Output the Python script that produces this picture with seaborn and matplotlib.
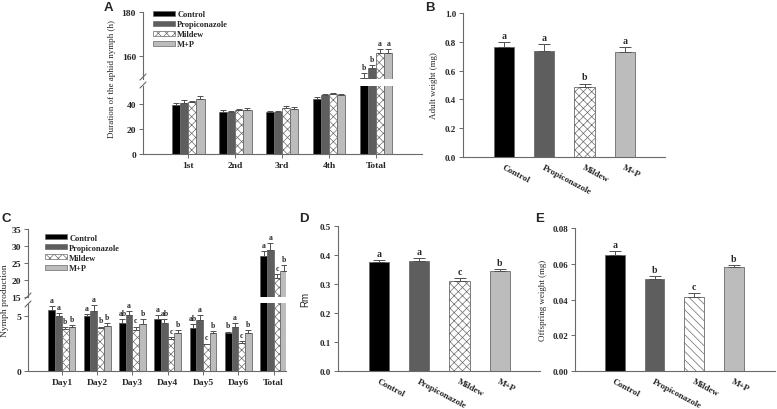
import numpy as np
import pandas as pd
import matplotlib
matplotlib.use('Agg')
import matplotlib.pyplot as plt
import matplotlib.patches as mpatches
from matplotlib.lines import Line2D
import seaborn as sns

# treatments et style des barres
treatments = ['Control', 'Propiconazole', 'Mildew', 'M+P']
bar_colors = ['#000000', '#5e5e5e', '#ffffff', '#bcbcbc']
bar_hatches = ['', '', 'xxxx', '']

# A - duree du developpement nymphal (h)
stages = ['1st', '2nd', '3rd', '4th', 'Total']
dur_control = [39.5, 34.0, 33.5, 44.3, 150.1]
dur_prop = [41.0, 33.5, 33.5, 47.0, 154.5]
dur_mildew = [41.6, 35.4, 37.0, 48.4, 161.4]
dur_mp = [44.3, 34.9, 36.2, 47.0, 161.5]
dur_control_se = [1.5, 1.0, 0.8, 1.1, 2.0]
dur_prop_se = [2.0, 0.8, 0.8, 1.4, 1.5]
dur_mildew_se = [1.1, 0.8, 1.4, 0.8, 1.9]
dur_mp_se = [2.5, 2.1, 1.6, 0.8, 1.8]
dur_letters = [['', '', '', '', 'b'], ['', '', '', '', 'b'],
               ['', '', '', '', 'a'], ['', '', '', '', 'a']]

# B - poids adulte (mg)
adult_weight = [0.764, 0.739, 0.485, 0.727]
adult_weight_se = [0.033, 0.044, 0.025, 0.035]
adult_letters = ['a', 'a', 'b', 'a']

# C - production de nymphes
days = ['Day1', 'Day2', 'Day3', 'Day4', 'Day5', 'Day6', 'Total']
nymph_control = [5.6, 4.97, 4.4, 4.73, 3.9, 3.46, 27.1]
nymph_prop = [5.0, 5.5, 5.15, 4.4, 4.65, 4.05, 28.8]
nymph_mildew = [3.85, 3.9, 3.75, 2.93, 2.43, 2.57, 20.6]
nymph_mp = [4.0, 4.1, 4.3, 3.46, 3.46, 3.46, 22.6]
nymph_control_se = [0.35, 0.23, 0.3, 0.37, 0.4, 0.14, 1.4]
nymph_prop_se = [0.3, 0.5, 0.3, 0.3, 0.45, 0.3, 2.1]
nymph_mildew_se = [0.15, 0.15, 0.3, 0.17, 0.07, 0.13, 1.2]
nymph_mp_se = [0.2, 0.3, 0.4, 0.24, 0.19, 0.24, 1.8]
nymph_letters = [['a', 'a', 'ab', 'a', 'ab', 'b', 'a'],
                 ['a', 'a', 'a', 'ab', 'a', 'a', 'a'],
                 ['b', 'b', 'c', 'c', 'c', 'c', 'c'],
                 ['b', 'b', 'b', 'b', 'b', 'b', 'b']]

# D - Rm
rm = [0.376, 0.378, 0.312, 0.344]
rm_se = [0.007, 0.011, 0.007, 0.007]
rm_letters = ['a', 'a', 'c', 'b']

# E - poids de la descendance (mg)
offspring = [0.0651, 0.0513, 0.0414, 0.0582]
offspring_se = [0.0020, 0.0017, 0.0021, 0.0011]
offspring_letters = ['a', 'b', 'c', 'b']

LINE = '#6a6a6a'
W, H = 777, 410

sns.set_style('ticks')
plt.rcParams['font.family'] = ['Liberation Serif', 'DejaVu Serif']
plt.rcParams['font.weight'] = 'bold'
plt.rcParams['axes.edgecolor'] = LINE
plt.rcParams['axes.linewidth'] = 0.8
plt.rcParams['hatch.linewidth'] = 0.5

fig = plt.figure(figsize=(W / 100, H / 100), dpi=100)


def px_axes(l, t, r, b):
    return fig.add_axes([l / W, 1 - b / H, (r - l) / W, (b - t) / H])


def style(ax, size=6.5):
    sns.despine(ax=ax)
    ax.tick_params(direction='out', length=3, width=0.7, color=LINE,
                   labelsize=size, pad=2)
    ax.set_xlabel('')
    ax.set_ylabel('')


def bars_and_errors(ax, means, errs, letters, capsize, lsize):
    bars = [b for c in list(ax.containers) for b in c]
    for k, bar in enumerate(bars):
        i = k // (len(bars) // 4)
        bar.set_hatch(bar_hatches[i] if len(bars) > 4 else bar_hatches[k])
        bar.set_edgecolor(LINE)
        bar.set_linewidth(0.6)
        xc = bar.get_x() + bar.get_width() / 2
        ax.errorbar(xc, means[k], yerr=[[0], [errs[k]]], fmt='none',
                    ecolor='#505050', elinewidth=0.7, capsize=capsize,
                    capthick=0.7)
        if letters[k]:
            ax.annotate(letters[k], (xc, means[k] + errs[k]),
                        xytext=(0, 1.5), textcoords='offset points',
                        ha='center', va='bottom', fontsize=lsize,
                        annotation_clip=False)


def grouped(ax, cats, series, errs, letters, width, lcheck):
    df = pd.DataFrame({'cat': cats * 4,
                       'treatment': np.repeat(treatments, len(cats)),
                       'value': sum(series, [])})
    sns.barplot(data=df, x='cat', y='value', hue='treatment', order=cats,
                hue_order=treatments, palette=bar_colors, width=width,
                errorbar=None, legend=False, ax=ax)
    flat_letters = [l if lcheck(j) else '' for row in letters
                    for j, l in enumerate(row)]
    bars_and_errors(ax, sum(series, []), sum(errs, []), flat_letters,
                    2.2, 5.5)


def single(ax, values, errs, letters):
    sns.barplot(x=treatments, y=values, hue=treatments, palette=bar_colors,
                width=0.5, legend=False, ax=ax)
    bars_and_errors(ax, values, errs, letters, 4, 7)
    ax.set_xticks(range(4))
    ax.set_xticklabels(treatments, rotation=-28, ha='left', va='top',
                       rotation_mode='anchor')


def break_marks(x, y1, y2):
    for y in (y1, y2):
        fig.add_artist(Line2D([(x - 3) / W, (x + 3) / W],
                              [1 - (y + 3) / H, 1 - (y - 3) / H],
                              color=LINE, lw=0.8, transform=fig.transFigure))


def make_legend(ax, bbox):
    handles = [mpatches.Patch(facecolor=c, edgecolor=LINE, hatch=h, lw=0.5,
                              label=t)
               for c, h, t in zip(bar_colors, bar_hatches, treatments)]
    ax.legend(handles=handles, loc='upper left', bbox_to_anchor=bbox,
              frameon=False, fontsize=6, handlelength=2.6, handleheight=0.55,
              handletextpad=0.3, labelspacing=0.25, borderaxespad=0,
              borderpad=0)


dur_series = [dur_control, dur_prop, dur_mildew, dur_mp]
dur_errs = [dur_control_se, dur_prop_se, dur_mildew_se, dur_mp_se]
nymph_series = [nymph_control, nymph_prop, nymph_mildew, nymph_mp]
nymph_errs = [nymph_control_se, nymph_prop_se, nymph_mildew_se, nymph_mp_se]

# ---- A
a_up = px_axes(143, 13, 422, 80)
a_lo = px_axes(143, 87, 422, 155)
grouped(a_up, stages, dur_series, dur_errs, dur_letters, 0.7,
        lambda j: j == 4)
grouped(a_lo, stages, dur_series, dur_errs, dur_letters, 0.7,
        lambda j: False)
for ax in (a_up, a_lo):
    style(ax, 6.8)
    ax.set_xlim(-0.96, 4.98)
a_up.set_ylim(149.5, 180)
a_up.set_yticks([160, 180])
a_up.spines['bottom'].set_visible(False)
a_up.tick_params(axis='x', length=0, labelbottom=False)
a_lo.set_ylim(0, 54.4)
a_lo.set_yticks([0, 20, 40])
a_lo.set_ylabel('Duration of the aphid nymph (h)', fontsize=6.5)
a_lo.yaxis.set_label_coords(-0.097, 1.12)
make_legend(a_up, (0.036, 1.03))
break_marks(143, 78, 86)

# ---- B
ax_b = px_axes(463, 14, 665, 158)
single(ax_b, adult_weight, adult_weight_se, adult_letters)
style(ax_b, 6.5)
ax_b.set_xlim(-1.02, 4.0)
ax_b.set_ylim(0, 1.0)
ax_b.set_yticks(np.arange(0, 1.01, 0.2))
ax_b.yaxis.set_major_formatter('{x:.1f}')
ax_b.tick_params(axis='x', length=0, pad=4)
ax_b.set_ylabel('Adult weight (mg)', fontsize=6.5)
ax_b.yaxis.set_label_coords(-0.124, 0.5)

# ---- C
c_up = px_axes(28, 230, 286, 298)
c_lo = px_axes(28, 304, 286, 372)
grouped(c_up, days, nymph_series, nymph_errs, nymph_letters, 0.76,
        lambda j: j == 6)
grouped(c_lo, days, nymph_series, nymph_errs, nymph_letters, 0.76,
        lambda j: j < 6)
for ax in (c_up, c_lo):
    style(ax, 6.8)
    ax.set_xlim(-0.96, 6.35)
c_up.set_ylim(15, 35)
c_up.set_yticks([15, 20, 25, 30, 35])
c_up.spines['bottom'].set_visible(False)
c_up.tick_params(axis='x', length=0, labelbottom=False)
c_lo.set_ylim(0, 6.2)
c_lo.set_yticks([0, 5])
c_lo.set_ylabel('Nymph production', fontsize=6.8)
c_lo.yaxis.set_label_coords(-0.075, 1.05)
make_legend(c_up, (0.066, 0.93))
break_marks(28, 297, 305)

# ---- D
ax_d = px_axes(338, 227, 540, 372)
single(ax_d, rm, rm_se, rm_letters)
style(ax_d, 6.5)
ax_d.set_xlim(-1.02, 4.0)
ax_d.set_ylim(0, 0.5)
ax_d.set_yticks(np.arange(0, 0.51, 0.1))
ax_d.yaxis.set_major_formatter('{x:.1f}')
ax_d.tick_params(axis='x', length=0, pad=4)
ax_d.set_ylabel('Rm', fontsize=7, family=['Liberation Sans', 'DejaVu Sans'])
ax_d.yaxis.set_label_coords(-0.135, 0.5)

# ---- E
ax_e = px_axes(575, 229, 775, 372)
single(ax_e, offspring, offspring_se, offspring_letters)
ax_e.patches[2].set_hatch('\\\\\\\\')
style(ax_e, 6.5)
ax_e.set_xlim(-1.0, 4.03)
ax_e.set_ylim(0, 0.08)
ax_e.set_yticks(np.arange(0, 0.081, 0.02))
ax_e.yaxis.set_major_formatter('{x:.2f}')
ax_e.tick_params(axis='x', length=0, pad=4)
ax_e.set_ylabel('Offspring weight (mg)', fontsize=6.5)
ax_e.yaxis.set_label_coords(-0.14, 0.5)

# lettres des panneaux
for lab, x, y in [('A', 104, 2), ('B', 425, 2), ('C', 2, 213),
                  ('D', 299, 213), ('E', 535, 213)]:
    fig.text(x / W, 1 - y / H, lab, ha='left', va='top', fontsize=9.5,
             fontweight='bold', family=['Liberation Sans', 'DejaVu Sans'])

fig.savefig('out.png', dpi=100, facecolor='white')
